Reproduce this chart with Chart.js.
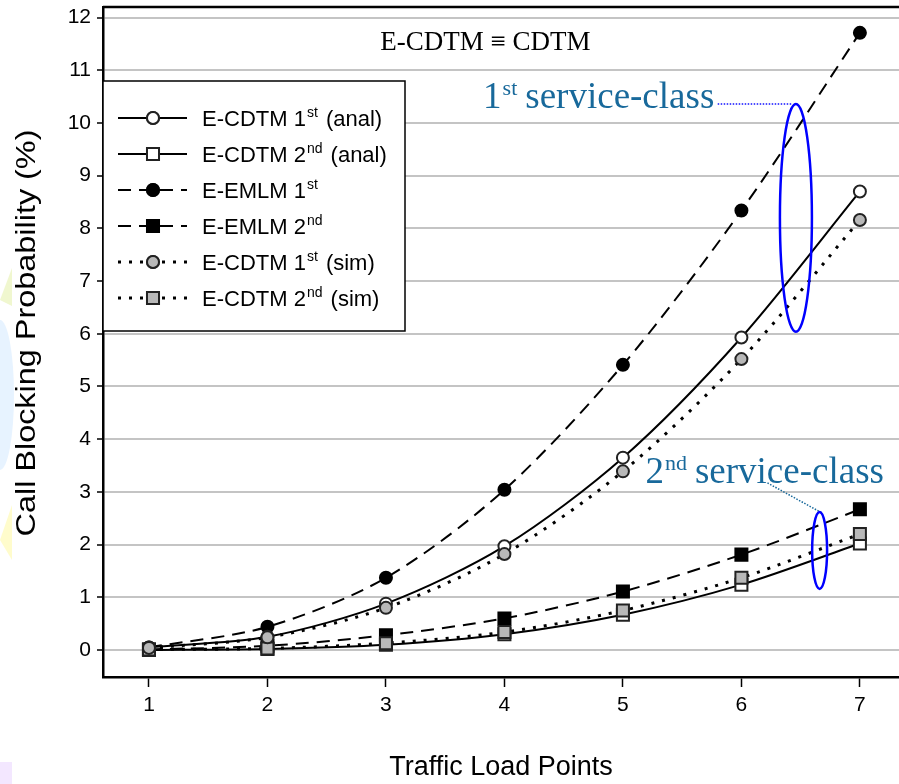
<!DOCTYPE html>
<html>
<head>
<meta charset="utf-8">
<script src="https://cdn.jsdelivr.net/npm/chart.js@4.4.1/dist/chart.umd.min.js"></script>
<style>
    html, body { margin: 0; padding: 0; background: #fff; }
    #wrap { width: 899px; height: 784px; position: relative; }
</style>
</head>
<body>
<div id="wrap"><canvas id="graficoBloqueo"></canvas></div>
<script>
// Datos
var loadPoints = [1, 2, 3, 4, 5, 6, 7];
var yTicks = [0, 1, 2, 3, 4, 5, 6, 7, 8, 9, 10, 11, 12];

var cdtm1Anal = [0.05, 0.25, 0.88, 1.97, 3.65, 5.93, 8.70];
var cdtm2Anal = [0.00, 0.02, 0.10, 0.30, 0.67, 1.24, 2.02];
var emlm1     = [0.05, 0.44, 1.37, 3.04, 5.41, 8.34, 11.71];
var emlm2     = [0.01, 0.08, 0.28, 0.60, 1.11, 1.81, 2.67];
var cdtm1Sim  = [0.04, 0.24, 0.80, 1.82, 3.39, 5.52, 8.16];
var cdtm2Sim  = [0.01, 0.03, 0.13, 0.34, 0.75, 1.37, 2.20];

// etiquetas con superíndice: [base, sup, resto]
var legendNames = [
    ['E-CDTM 1', 'st', ' (anal)'],
    ['E-CDTM 2', 'nd', ' (anal)'],
    ['E-EMLM 1', 'st', ''],
    ['E-EMLM 2', 'nd', ''],
    ['E-CDTM 1', 'st', ' (sim)'],
    ['E-CDTM 2', 'nd', ' (sim)']
];

function pares(vals) {
    return loadPoints.map(function (x, i) { return { x: x, y: vals[i] }; });
}

var SANS = '"Liberation Sans", Arial, sans-serif';
var SERIF = '"Liberation Serif", "Times New Roman", serif';
var DASH = [13, 8];
var DOT = [3, 8];

function serie(label, vals, dash, style, fill, order) {
    return {
        label: label,
        data: pares(vals),
        borderColor: '#000',
        borderWidth: dash === DOT ? 3 : 2,
        borderDash: dash,
        tension: 0.3,
        pointStyle: style,
        pointRadius: style === 'rect' ? 8.5 : 6,
        pointBackgroundColor: fill,
        pointBorderColor: fill === '#000' ? '#000' : '#222',
        pointBorderWidth: 2,
        order: order,
        fill: false
    };
}

// leyenda dentro del área del gráfico
var leyendaPlugin = {
    id: 'leyenda',
    afterDatasetsDraw: function (chart) {
        var ctx = chart.ctx, a = chart.chartArea;
        var bx = a.left, by = 81, bw = 302, bh = 250;
        ctx.save();
        ctx.fillStyle = '#fff';
        ctx.fillRect(bx, by, bw, bh);
        ctx.strokeStyle = '#000';
        ctx.lineWidth = 1.5;
        ctx.strokeRect(bx, by, bw, bh);
        chart.data.datasets.forEach(function (ds, i) {
            var y = 118 + i * 36;
            ctx.strokeStyle = '#000';
            ctx.lineWidth = ds.borderWidth;
            ctx.setLineDash(ds.borderDash);
            ctx.beginPath();
            ctx.moveTo(118, y);
            ctx.lineTo(187, y);
            ctx.stroke();
            ctx.setLineDash([]);
            ctx.fillStyle = ds.pointBackgroundColor;
            ctx.strokeStyle = ds.pointBorderColor;
            ctx.lineWidth = ds.pointBorderWidth;
            Chart.helpers.drawPoint(ctx, { pointStyle: ds.pointStyle, radius: ds.pointRadius, borderWidth: 2 }, 153, y);
            ctx.fill();
            ctx.stroke();
            var n = legendNames[i];
            ctx.fillStyle = '#000';
            ctx.textBaseline = 'alphabetic';
            ctx.font = '22px ' + SANS;
            var tx = 202, base = y + 8;
            ctx.fillText(n[0], tx, base);
            tx += ctx.measureText(n[0]).width + 1;
            ctx.font = '14px ' + SANS;
            ctx.fillText(n[1], tx, base - 9);
            tx += ctx.measureText(n[1]).width + 2;
            ctx.font = '22px ' + SANS;
            ctx.fillText(n[2], tx, base);
        });
        ctx.restore();
    }
};

// anotaciones: texto, elipses y conectores
var notasPlugin = {
    id: 'notas',
    beforeDraw: function (chart) {
        var ctx = chart.ctx;
        ctx.save();
        ctx.fillStyle = '#fff';
        ctx.fillRect(0, 0, chart.width, chart.height);
        // restos del fondo de diapositiva
        ctx.fillStyle = 'rgba(225,240,160,0.5)';
        ctx.beginPath(); ctx.moveTo(0, 300); ctx.lineTo(12, 268); ctx.lineTo(12, 306); ctx.closePath(); ctx.fill();
        ctx.fillStyle = 'rgba(215,235,255,0.6)';
        ctx.beginPath(); ctx.ellipse(0, 395, 14, 75, 0, -Math.PI / 2, Math.PI / 2); ctx.fill();
        ctx.fillStyle = 'rgba(255,250,170,0.6)';
        ctx.beginPath(); ctx.moveTo(0, 540); ctx.lineTo(12, 505); ctx.lineTo(12, 560); ctx.closePath(); ctx.fill();
        ctx.fillStyle = 'rgba(235,215,255,0.6)';
        ctx.fillRect(0, 762, 12, 22);
        ctx.restore();
    },
    afterDraw: function (chart) {
        // título del eje Y, algo estirado como en el original
        var ctx = chart.ctx;
        ctx.save();
        ctx.translate(28, 333);
        ctx.rotate(-Math.PI / 2);
        ctx.scale(1.2, 1);
        ctx.fillStyle = '#000';
        ctx.font = '27px ' + SANS;
        ctx.textAlign = 'center';
        ctx.textBaseline = 'middle';
        ctx.fillText('Call Blocking Probability (%)', 0, 0);
        ctx.restore();
    },
    afterDatasetsDraw: function (chart) {
        var ctx = chart.ctx, a = chart.chartArea;
        var sx = chart.scales.x, sy = chart.scales.y;
        var px = function (v) { return sx.getPixelForValue(v); };
        var py = function (v) { return sy.getPixelForValue(v); };
        ctx.save();
        // borde superior
        ctx.strokeStyle = '#000';
        ctx.lineWidth = 2.5;
        ctx.beginPath();
        ctx.moveTo(a.left, a.top);
        ctx.lineTo(a.right, a.top);
        ctx.stroke();

        ctx.fillStyle = '#000';
        ctx.font = '27px ' + SERIF;
        ctx.textAlign = 'center';
        ctx.textBaseline = 'middle';
        ctx.fillText('E-CDTM \u2261 CDTM', px(3.84), py(11.52));

        function claseTexto(num, sup, x, y) {
            ctx.textAlign = 'left';
            ctx.textBaseline = 'alphabetic';
            ctx.fillStyle = '#18699b';
            ctx.font = '37px ' + SERIF;
            var tx = px(x), ty = py(y);
            ctx.fillText(num, tx, ty);
            tx += ctx.measureText(num).width + 1;
            ctx.font = '22px ' + SERIF;
            ctx.fillText(sup, tx, ty - 13);
            tx += ctx.measureText(sup).width + 8;
            ctx.font = '37px ' + SERIF;
            ctx.fillText('service-class', tx, ty);
        }
        claseTexto('1', 'st', 3.82, 10.28);
        claseTexto('2', 'nd', 5.19, 3.17);

        // conectores punteados
        ctx.lineWidth = 1.5;
        ctx.setLineDash([1.5, 1.5]);
        ctx.strokeStyle = '#1010ff';
        ctx.beginPath();
        ctx.moveTo(px(5.80), py(10.36));
        ctx.lineTo(px(6.43), py(10.36));
        ctx.stroke();
        ctx.strokeStyle = '#18699b';
        ctx.beginPath();
        ctx.moveTo(px(6.22), py(3.17));
        ctx.lineTo(px(6.68), py(2.60));
        ctx.stroke();
        ctx.setLineDash([]);

        // elipses
        ctx.strokeStyle = '#0000ff';
        ctx.lineWidth = 2.5;
        ctx.beginPath();
        ctx.ellipse(px(6.46), py(8.2), px(6.46 + 0.135) - px(6.46), py(8.2) - py(8.2 + 2.16), 0, 0, Math.PI * 2);
        ctx.stroke();
        ctx.beginPath();
        ctx.ellipse(px(6.66), py(1.89), px(6.66 + 0.063) - px(6.66), py(1.89) - py(1.89 + 0.73), 0, 0, Math.PI * 2);
        ctx.stroke();
        ctx.restore();
    }
};

document.addEventListener('DOMContentLoaded', function () {
    var ctx = document.getElementById('graficoBloqueo').getContext('2d');
    var grafico = new Chart(ctx, {
        type: 'line',
        data: {
            datasets: [
                serie('E-CDTM 1st (anal)', cdtm1Anal, [], 'circle', '#fff', 2),
                serie('E-CDTM 2nd (anal)', cdtm2Anal, [], 'rect', '#fff', 2),
                serie('E-EMLM 1st', emlm1, DASH, 'circle', '#000', 2),
                serie('E-EMLM 2nd', emlm2, DASH, 'rect', '#000', 2),
                serie('E-CDTM 1st (sim)', cdtm1Sim, DOT, 'circle', '#b8b8b8', 1),
                serie('E-CDTM 2nd (sim)', cdtm2Sim, DOT, 'rect', '#b8b8b8', 1)
            ]
        },
        options: {
            responsive: true,
            maintainAspectRatio: false,
            animation: false,
            layout: { autoPadding: false, padding: { top: 7, right: 0, left: 0, bottom: 0 } },
            plugins: {
                legend: { display: false },
                tooltip: { enabled: false }
            },
            scales: {
                x: {
                    type: 'linear',
                    position: 'bottom',
                    min: 0.612,
                    max: 7.33,
                    afterBuildTicks: function (s) { s.ticks = loadPoints.map(function (v) { return { value: v }; }); },
                    afterFit: function (s) { s.height = 107; s.paddingLeft = 0; s.paddingRight = 0; },
                    ticks: { color: '#000', font: { size: 21, family: SANS }, padding: 6, maxRotation: 0 },
                    grid: { drawOnChartArea: false, drawTicks: true, tickLength: 10, tickColor: '#000', tickWidth: 1.5 },
                    border: { display: true, color: '#000', width: 2.5 },
                    title: { display: true, text: 'Traffic Load Points', color: '#000', font: { size: 27, family: SANS }, padding: 0 }
                },
                y: {
                    type: 'linear',
                    min: -0.512,
                    max: 12.2,
                    afterBuildTicks: function (s) { s.ticks = yTicks.map(function (v) { return { value: v }; }); },
                    afterFit: function (s) { s.width = 103; s.paddingTop = 0; s.paddingBottom = 0; },
                    ticks: { color: '#000', font: { size: 21, family: SANS }, padding: 6 },
                    grid: { color: '#c4c4c4', lineWidth: 2, drawTicks: true, tickLength: 6, tickColor: '#000', tickWidth: 1.5 },
                    border: { display: true, color: '#000', width: 2.5 },
                    title: { display: false }
                }
            }
        },
        plugins: [notasPlugin, leyendaPlugin]
    });
});
</script>
</body>
</html>
